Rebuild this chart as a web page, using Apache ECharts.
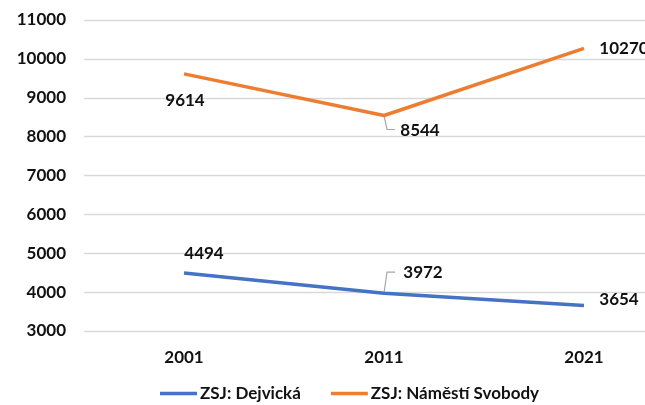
<!DOCTYPE html>
<html>
<head>
<meta charset="utf-8">
<script src="https://cdn.jsdelivr.net/npm/echarts@6/dist/echarts.min.js"></script>
<style>
  html, body { margin: 0; padding: 0; background: #fff; }
  #chart { width: 645px; height: 405px; }
</style>
</head>
<body>
<div id="chart"></div>
<script>
// Population of two basic settlement units by census year
const years = ['2001', '2011', '2021'];
const dejvicka = [4494, 3972, 3654];
const namestiSvobody = [9614, 8544, 10270];
const yTicks = { min: 3000, max: 11000, step: 1000 };

const FONT = 'Lato';
const labelText = { fontFamily: FONT, fontWeight: 'bold', fontSize: 17, color: '#111' };

// Per-point label placement (label centre offsets from the point, in pixels)
const blueLabelLayout = [
  { dx: 20, dy: -19 },
  { dx: 39, dy: -21 },
  { dx: 35, dy: -6 }
];
const orangeLabelLayout = [
  { dx: 1, dy: 27 },
  { dx: 36, dy: 15 },
  { dx: 40, dy: 0 }
];

function buildData(values, layout) {
  return values.map((v, i) => ({
    value: v,
    label: { show: true, position: 'inside', offset: [layout[i].dx, layout[i].dy] }
  }));
}

const chart = echarts.init(document.getElementById('chart'));
chart.setOption({
  animation: false,
  color: ['#4472C4', '#ED7D31'],
  grid: { left: 84, top: 20, width: 600, height: 311, outerBoundsMode: 'none', containLabel: false },
  xAxis: {
    type: 'category',
    data: years,
    boundaryGap: true,
    axisLine: { show: false },
    axisTick: { show: false },
    axisLabel: { ...labelText, margin: 18 }
  },
  yAxis: {
    type: 'value',
    min: yTicks.min,
    max: yTicks.max,
    interval: yTicks.step,
    axisLine: { show: false },
    axisTick: { show: false },
    splitLine: { lineStyle: { color: '#d9d9d9', width: 1.3 } },
    axisLabel: { ...labelText, margin: 18, formatter: v => String(v) }
  },
  legend: {
    bottom: -2,
    left: 155,
    icon: 'rect',
    itemWidth: 37,
    itemHeight: 3.5,
    itemGap: 30,
    textStyle: { fontFamily: FONT, fontWeight: 'bold', fontSize: 17, color: '#111', padding: [0, 0, 0, -2] },
    data: ['ZSJ: Dejvická', 'ZSJ: Náměstí Svobody']
  },
  series: [
    {
      name: 'ZSJ: Dejvická',
      type: 'line',
      data: buildData(dejvicka, blueLabelLayout),
      symbol: 'circle',
      symbolSize: 0.01,
      showSymbol: true,
      lineStyle: { width: 3.5 },
      label: { show: true, ...labelText }
    },
    {
      name: 'ZSJ: Náměstí Svobody',
      type: 'line',
      data: buildData(namestiSvobody, orangeLabelLayout),
      symbol: 'circle',
      symbolSize: 0.01,
      showSymbol: true,
      lineStyle: { width: 3.5 },
      label: { show: true, ...labelText }
    }
  ]
});

// Leader lines for the middle-year labels, placed via the chart's own coordinate conversion
function leader(seriesIndex, idx, value, dy) {
  const p = chart.convertToPixel({ seriesIndex }, [idx, value]);
  const ey = p[1] + dy;
  return {
    type: 'polyline',
    silent: true,
    shape: { points: [[p[0], p[1]], [p[0] + 3, ey], [p[0] + 11, ey]] },
    style: { stroke: '#a6a6a6', lineWidth: 1.2, fill: null }
  };
}
chart.setOption({
  graphic: [
    leader(0, 1, dejvicka[1], -21),
    leader(1, 1, namestiSvobody[1], 14)
  ]
});
</script>
</body>
</html>
